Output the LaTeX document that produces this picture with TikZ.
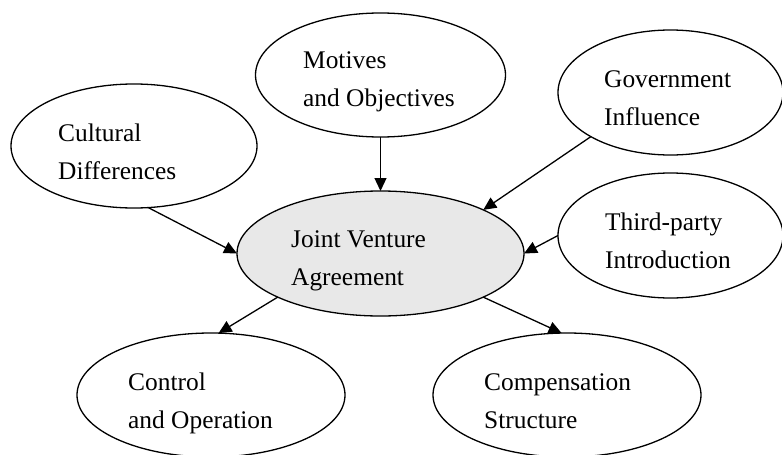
\documentclass[tikz,border=0pt]{standalone}
\usepackage{fontspec}
\setmainfont{Liberation Serif}
\usetikzlibrary{arrows.meta,shapes.geometric}
\definecolor{hubfill}{HTML}{E8E8E8}
\begin{document}
\begin{tikzpicture}[x=1pt,y=-1pt,
  bubble/.style={ellipse, draw, line width=1.3pt, inner sep=0pt, outer sep=0pt},
  lbl/.style={anchor=base west, inner sep=0pt, font=\fontsize{25.4}{38}\selectfont},
  link/.style={line width=1.3pt, -{Triangle[length=13pt,width=12pt]}}]

\useasboundingbox (0,0) rectangle (782,455);

% factor bubbles
\node[bubble, minimum width=246pt, minimum height=124pt] (cul) at (134,146) {};
\node[bubble, minimum width=250pt, minimum height=124pt] (mot) at (380.5,75) {};
\node[bubble, minimum width=225pt, minimum height=125pt] (gov) at (670.5,92.5) {};
\node[bubble, minimum width=225pt, minimum height=125pt] (thi) at (670.5,235.5) {};
\node[bubble, fill=hubfill, minimum width=287pt, minimum height=125pt] (jva) at (380.5,253.5) {};
\node[bubble, minimum width=268pt, minimum height=124pt] (con) at (211,395) {};
\node[bubble, minimum width=268pt, minimum height=124pt] (com) at (567,395) {};

% labels
\node[lbl] (cul-t) at (58,141) {\begin{tabular}[t]{@{}l@{}}Cultural\\Differences\end{tabular}};
\node[lbl] (mot-t) at (303,68) {\begin{tabular}[t]{@{}l@{}}Motives\\and Objectives\end{tabular}};
\node[lbl] (gov-t) at (604,87) {\begin{tabular}[t]{@{}l@{}}Government\\Influence\end{tabular}};
\node[lbl] (thi-t) at (605,230) {\begin{tabular}[t]{@{}l@{}}Third-party\\Introduction\end{tabular}};
\node[lbl] (jva-t) at (291,247) {\begin{tabular}[t]{@{}l@{}}Joint Venture\\Agreement\end{tabular}};
\node[lbl] (con-t) at (128,390) {\begin{tabular}[t]{@{}l@{}}Control\\and Operation\end{tabular}};
\node[lbl] (com-t) at (484,390) {\begin{tabular}[t]{@{}l@{}}Compensation\\Structure\end{tabular}};

% connectors
\draw[link] (mot.south) -- (jva.north);
\draw[link] (cul.-77.5) -- (jva.west);
\draw[link] (gov.209.5) -- (jva.23.9);
\draw[link] (thi.west) -- (jva.east);
\draw[link] (jva.203.5) -- (con.83.5);
\draw[link] (jva.-23) -- (com.95.6);
\end{tikzpicture}
\end{document}
